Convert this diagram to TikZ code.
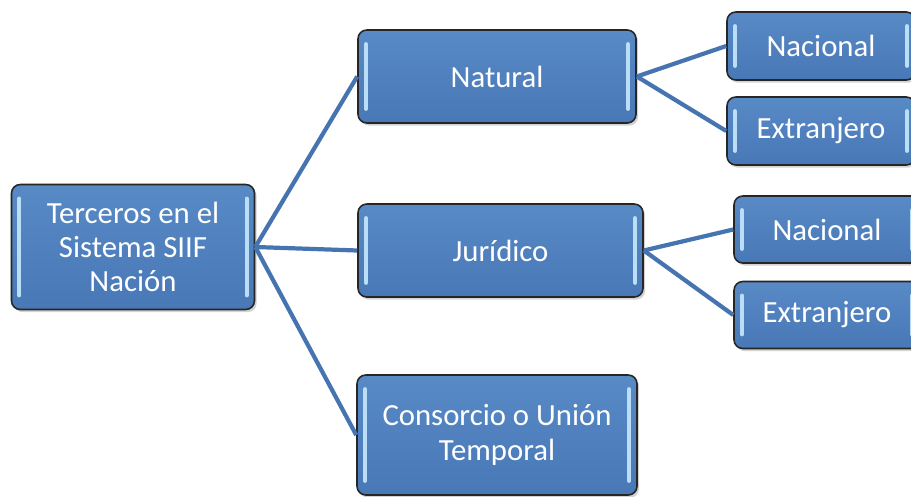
\documentclass[tikz,border=0pt]{standalone}
\usepackage{fontspec}
\setmainfont{Carlito}
\usetikzlibrary{shadings,shapes,shadows}

\definecolor{boxtop}{RGB}{88,138,198}
\definecolor{boxbot}{RGB}{72,120,182}
\definecolor{glint}{RGB}{185,222,246}
\definecolor{wire}{RGB}{70,116,176}

\tikzset{
  tbox/.style={rectangle, rounded corners=5pt, draw=black!85, line width=0.9pt,
    top color=boxtop, bottom color=boxbot, text=white, align=center,
    font=\fontsize{17.5}{19.5}\selectfont,
    drop shadow={shadow xshift=1.2pt, shadow yshift=-1.5pt, opacity=0.35},
    path picture={
      \draw[glint, line width=2.2pt, line cap=round]
        ([xshift=4.5pt,yshift=-8pt]path picture bounding box.north west) -- ([xshift=4.5pt,yshift=8pt]path picture bounding box.south west);
      \draw[glint, line width=2.2pt, line cap=round]
        ([xshift=-4.5pt,yshift=-8pt]path picture bounding box.north east) -- ([xshift=-4.5pt,yshift=8pt]path picture bounding box.south east);
    }},
  wire/.style={draw=wire, line width=2.4pt}
}

\begin{document}
\begin{tikzpicture}
    \useasboundingbox (0,0) rectangle (18.22,9.92);
    \node[tbox, minimum width=4.86cm, minimum height=2.5cm] (root) at (2.66,4.98) {Terceros en el\\Sistema SIIF\\Nación};
    \node[tbox, minimum width=5.56cm, minimum height=1.86cm] (nat) at (9.94,8.39) {Natural};
    \node[tbox, minimum width=5.7cm, minimum height=1.86cm] (jur) at (10.01,4.91) {Jurídico};
    \node[tbox, minimum width=5.6cm, minimum height=2.4cm] (cons) at (9.94,1.22) {Consorcio o Unión\\Temporal};
    % second level, cut off at the right edge
    \node[tbox, minimum width=3.76cm, minimum height=1.36cm] (natnac) at (16.42,9.0) {Nacional};
    \node[tbox, minimum width=3.76cm, minimum height=1.36cm] (natext) at (16.42,7.3) {Extranjero};
    \node[tbox, minimum width=3.72cm, minimum height=1.34cm] (jurnac) at (16.54,5.33) {Nacional};
    \node[tbox, minimum width=3.72cm, minimum height=1.34cm] (jurext) at (16.54,3.62) {Extranjero};
    \draw[wire] (root.east) -- (nat.west);
    \draw[wire] (root.east) -- (jur.west);
    \draw[wire] (root.east) -- (cons.west);
    \draw[wire] (nat.east) -- (natnac.west);
    \draw[wire] (nat.east) -- (natext.west);
    \draw[wire] (jur.east) -- (jurnac.west);
    \draw[wire] (jur.east) -- (jurext.west);
\end{tikzpicture}
\end{document}
